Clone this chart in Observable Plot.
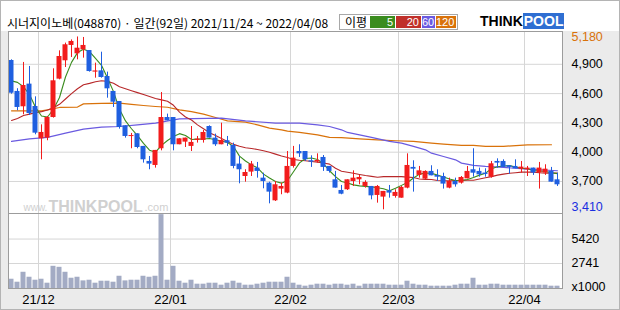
<!DOCTYPE html>
<html><head><meta charset="utf-8">
<script src="https://cdn.jsdelivr.net/npm/d3@7"></script>
<script src="https://cdn.jsdelivr.net/npm/@observablehq/plot@0.6"></script>
<style>
html,body{margin:0;padding:0;background:#fff;}
#wrap{position:relative;width:620px;height:310px;background:#ebebeb;overflow:hidden;}
#head{position:absolute;left:0;top:0;width:620px;height:31px;background:#fff;}
#title{position:absolute;left:7px;top:15px;font-family:"Noto Sans CJK KR";font-size:12px;line-height:16px;color:#000;white-space:nowrap;}
#legend{position:absolute;left:339px;top:14px;width:119px;height:16px;box-sizing:border-box;border:1px solid #a8a8a8;background:#fff;}
#legend .lab{position:absolute;left:5px;top:0;font-family:"Noto Sans CJK KR";font-size:12px;line-height:14px;}
#legend .b{position:absolute;top:1px;height:12px;color:#fff;font-family:"Liberation Sans";font-size:11px;line-height:12px;text-align:right;box-sizing:border-box;padding-right:2px;}
#logo{position:absolute;left:480px;top:15px;height:13px;white-space:nowrap;font-family:"Liberation Sans";font-weight:bold;font-size:14px;line-height:13px;}
#logo .p{background:#2f6fd2;color:#fff;padding:0 1px;}
#price,#vol{position:absolute;left:0;}
#price{top:0;} #vol{top:213px;}
#border{position:absolute;left:0;top:0;width:620px;height:310px;box-sizing:border-box;border:1px solid #b4b4b4;pointer-events:none;}
</style></head>
<body>
<div id="wrap">
  <div id="head"></div>
  <div id="price"></div>
  <div id="vol"></div>
  <div id="title">시너지이노베(048870) · 일간(92일) 2021/11/24 ~ 2022/04/08</div>
  <div id="legend"><span class="lab">이평</span>
    <span class="b" style="left:30px;width:25px;background:#3a8c1e">5</span>
    <span class="b" style="left:56px;width:25px;background:#c0302a">20</span>
    <span class="b" style="left:82px;width:13px;background:#6a5ae0">60</span>
    <span class="b" style="left:96px;width:20px;background:#d9720a">120</span>
  </div>
  <div id="logo"><span>THINK</span><span class="p">POOL</span></div>
  <div id="border"></div>
</div>
<script>
const open  = [4939,4622,4465,4697,4468,4137,4144,4355,4748,4936,5093,5007,5048,5041,4820,4833,4775,4622,4519,4270,4160,4188,4059,3905,3864,4035,4355,4355,4076,4103,4059,4120,4120,4263,4144,4076,4117,4069,3878,3751,3796,3837,3734,3683,3502,3622,3581,3854,4007,4007,3912,3900,3946,3854,3717,3608,3615,3700,3717,3649,3649,3557,3540,3605,3547,3529,3632,3844,3762,3724,3803,3761,3751,3632,3700,3683,3727,3820,3803,3786,3744,3905,3905,3861,3854,3826,3820,3837,3786,3786,3803,3717];
const high  = [4946,4650,4919,4878,4567,4280,4366,4854,5038,5117,5150,5180,5175,5041,4912,5024,4820,4622,4519,4270,4192,4188,4059,3956,4018,4611,4390,4355,4137,4144,4263,4161,4222,4270,4185,4297,4161,4093,3956,3820,3905,3895,3785,3693,3700,3683,4007,4059,4076,4007,3963,3983,3966,3854,3803,3659,3717,3809,3761,3707,3649,3659,3598,3659,3615,3649,3983,3912,3854,3809,3861,3820,3785,3734,3734,3751,3854,4035,3837,3830,3905,3932,3922,3861,3922,3905,3854,3837,3895,3871,3844,3785];
const low   = [4594,4424,4383,4376,4178,3922,4117,4349,4741,4867,4970,4946,4963,4820,4758,4758,4553,4458,4236,4144,4035,4035,3888,3820,3837,4014,4321,4014,4076,4048,4007,4093,4093,4144,4059,4076,4059,3830,3676,3693,3751,3734,3625,3471,3495,3564,3574,3837,3946,3905,3844,3888,3803,3786,3632,3564,3608,3649,3666,3632,3512,3478,3410,3529,3529,3529,3625,3591,3734,3717,3758,3700,3622,3625,3642,3673,3727,3744,3744,3744,3734,3837,3844,3775,3830,3786,3751,3762,3622,3762,3693,3649];
const close = [4604,4458,4683,4396,4195,4202,4355,4731,4980,5100,5134,5065,5093,4826,4832,4765,4649,4512,4253,4161,4170,4048,3922,3878,4018,4355,4321,4076,4137,4144,4100,4134,4202,4144,4076,4120,4093,3854,3820,3792,3878,3803,3700,3591,3666,3649,3854,3939,3983,3922,3898,3915,3844,3803,3632,3570,3717,3734,3741,3690,3553,3649,3598,3581,3588,3639,3864,3826,3809,3803,3758,3744,3673,3700,3666,3741,3803,3785,3768,3772,3881,3888,3844,3844,3830,3847,3837,3786,3837,3826,3693,3666];
const volume = [1016,690,1779,1234,908,1016,581,2432,2323,1779,1125,1234,835,908,581,799,799,690,1343,835,908,908,1343,1234,1343,8095,908,2432,799,581,908,472,472,581,581,363,581,799,581,363,363,472,581,690,690,690,1234,581,363,254,363,472,472,363,472,472,363,472,254,472,472,472,472,363,363,363,799,472,363,363,254,254,254,254,363,472,472,1125,363,363,472,472,363,363,363,363,363,363,363,363,254,254];
const ma5 = [4730,4715,4670,4590,4460,4370,4360,4440,4560,4770,4920,5020,5055,5030,4960,4890,4760,4620,4440,4320,4240,4170,4090,4020,4000,4070,4120,4160,4190,4170,4130,4134,4135,4140,4128,4115,4100,4059,3960,3910,3870,3840,3775,3735,3700,3683,3710,3800,3890,3935,3940,3925,3880,3810,3750,3700,3685,3665,3655,3650,3645,3635,3625,3605,3630,3660,3690,3735,3775,3786,3785,3765,3745,3725,3710,3712,3720,3740,3765,3785,3830,3850,3858,3862,3848,3836,3830,3812,3808,3802,3790,3780];
const ma20 = [4325,4345,4375,4390,4405,4415,4432,4455,4490,4545,4600,4650,4690,4705,4722,4731,4725,4705,4670,4650,4630,4610,4590,4570,4550,4536,4522,4480,4410,4360,4330,4280,4240,4200,4170,4140,4110,4080,4060,4045,4038,4028,4015,4000,3980,3960,3946,3925,3918,3913,3905,3898,3890,3878,3835,3805,3795,3784,3772,3761,3752,3744,3750,3750,3750,3750,3745,3740,3725,3722,3720,3710,3708,3708,3710,3710,3712,3712,3725,3738,3750,3765,3775,3785,3790,3796,3796,3796,3790,3786,3786,3786];
const ma60Idx = [0,3,6,9,12,15,18,21,24,28,35,39,44,48,51,53,55,56,58,60,63,65,67,69,70,72,74,75,77,79,82,86,91];
const ma60Val = [4110,4137,4151,4195,4236,4256,4263,4280,4297,4342,4349,4321,4297,4297,4280,4263,4229,4202,4178,4151,4110,4093,4059,4024,3990,3956,3922,3888,3864,3854,3844,3826,3810];
const ma120Idx = [0,5,6,8,11,12,15,18,20,22,24,26,28,30,32,34,36,39,41,43,45,46,48,51,53,55,58,61,64,67,70,72,75,77,79,82,86,90];
const ma120Val = [4424,4424,4434,4458,4462,4495,4500,4502,4490,4478,4468,4460,4434,4415,4390,4355,4321,4308,4280,4246,4229,4215,4202,4178,4151,4150,4137,4127,4117,4110,4093,4083,4069,4069,4059,4060,4075,4076];
const monthStart = [5,27,47,65,86];
const monthLabels = ["21/12","22/01","22/02","22/03","22/04"];
const priceGrid = [4900,4600,4300,4000,3700];
const priceMax = 5180, priceMin = 3410;
const volTicks = [5420,2741];

const UP = "#f21c1c", DOWN = "#1f5fe0";
const C5 = "#3a8c1e", C20 = "#b8282a", C60 = "#6a5ae0", C120 = "#d9720a";
const days = open.map((o, i) => ({i, o, h: high[i], l: low[i], c: close[i], v: volume[i], m5: ma5[i], m20: ma20[i]}));
const col = d => d.c >= d.o ? UP : DOWN;
const xDomain = [-0.5, 91.8333];
const m60 = ma60Idx.map((x, j) => ({x, y: ma60Val[j]}));
const m120 = ma120Idx.map((x, j) => ({x, y: ma120Val[j]}));
const wm = {frameAnchor: "bottom-left", textAnchor: "start", lineAnchor: "bottom", fill: "#d0d0d0", text: d => d};
const font = {fontFamily: "Liberation Sans", fontSize: "12.5px", background: "transparent", color: "#000", overflow: "visible"};

const price = Plot.plot({
  width: 620, height: 213, marginTop: 31, marginBottom: 0, marginLeft: 8, marginRight: 58,
  x: {domain: xDomain, axis: null},
  y: {domain: [3372, 5236], axis: null},
  color: {type: "identity"},
  style: font,
  marks: [
    Plot.frame({fill: "#fff", stroke: null}),
    Plot.ruleY(priceGrid, {stroke: "#d6d6d6"}),
    Plot.ruleX(monthStart, {x: d => d - 0.5, stroke: "#d6d6d6"}),
    Plot.text(["www."], {...wm, dx: 15, dy: -3, fontSize: 10}),
    Plot.text(["THINKPOOL"], {...wm, dx: 40, dy: -2, fontSize: 16, fontWeight: "bold"}),
    Plot.text([".com"], {...wm, dx: 136, dy: -3, fontSize: 11}),
    Plot.line(m120, {x: "x", y: "y", stroke: C120, strokeWidth: 1.2}),
    Plot.line(m60, {x: "x", y: "y", stroke: C60, strokeWidth: 1.2}),
    Plot.line(days, {x: "i", y: "m20", stroke: C20, strokeWidth: 1.1}),
    Plot.line(days, {x: "i", y: "m5", stroke: C5, strokeWidth: 1.1}),
    Plot.ruleX(days, {x: "i", y1: "l", y2: "h", stroke: col}),
    Plot.rect(days, {x1: d => d.i - 0.4167, x2: d => d.i + 0.4167, y1: "o", y2: "c", fill: col}),
    Plot.frame({stroke: "#9c9c9c"}),
    Plot.axisY({anchor: "right", ticks: priceGrid, tickSize: 0, tickPadding: 9, tickFormat: d3.format(","), label: null}),
    Plot.axisY({anchor: "right", ticks: [priceMax], tickSize: 0, tickPadding: 9, tickFormat: d3.format(","), color: "#d9720a", label: null}),
    Plot.axisY({anchor: "right", ticks: [priceMin], tickSize: 0, tickPadding: 9, tickFormat: d3.format(","), color: "#1a2fe0", dy: -3, label: null})
  ]
});
document.getElementById("price").appendChild(price);

const labelAt = d => monthLabels[monthStart.indexOf(Math.round(d + 0.5))];
const vol = Plot.plot({
  width: 620, height: 97, marginTop: 0, marginBottom: 22, marginLeft: 8, marginRight: 58,
  x: {domain: xDomain, axis: null},
  y: {domain: [0, 8220], axis: null},
  style: font,
  marks: [
    Plot.frame({fill: "#fff", stroke: null}),
    Plot.ruleY(volTicks, {stroke: "#d6d6d6"}),
    Plot.ruleX(monthStart, {x: d => d - 0.5, stroke: "#d6d6d6"}),
    Plot.rectY(days, {x1: d => d.i - 0.4167, x2: d => d.i + 0.4167, y: "v", fill: "#a3abc4"}),
    Plot.frame({stroke: "#9c9c9c"}),
    Plot.axisY({anchor: "right", ticks: volTicks, tickSize: 0, tickPadding: 9, tickFormat: d => String(d), label: null}),
    Plot.axisY({anchor: "right", ticks: [0], tickSize: 0, tickPadding: 9, tickFormat: () => "x1000", dy: -2, label: null}),
    Plot.axisX({anchor: "bottom", ticks: monthStart.map(d => d - 0.5), tickSize: 0, tickPadding: 6, tickFormat: labelAt, fontSize: 13, label: null})
  ]
});
document.getElementById("vol").appendChild(vol);
</script>
</body></html>
